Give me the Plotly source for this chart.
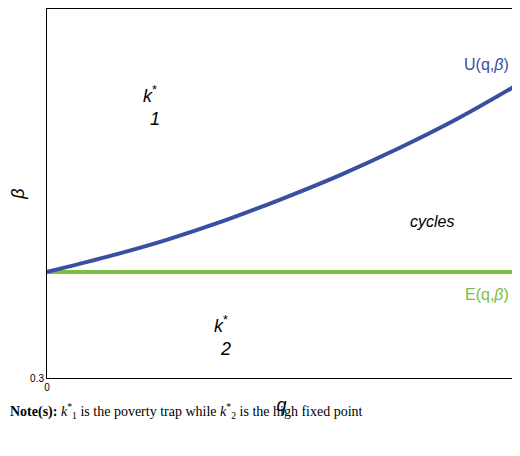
import plotly.graph_objects as go

q = [0, 0.125, 0.25, 0.375, 0.5, 0.625, 0.75, 0.875, 1.0]
u_beta = [0.415, 0.431, 0.449, 0.470, 0.494, 0.520, 0.549, 0.581, 0.617]
e_q = [0, 1]
e_beta = [0.415, 0.415]

fig = go.Figure()
fig.add_trace(go.Scatter(x=e_q, y=e_beta, mode="lines", line=dict(color="#7cbd42", width=4)))
fig.add_trace(go.Scatter(x=q, y=u_beta, mode="lines", line=dict(color="#3a4ea2", width=4, shape="spline")))

ann = [
    dict(x=0.99, y=0.64, text="U(q,<i>β</i>)", font=dict(color="#3a4ea2", size=16), xanchor="right"),
    dict(x=0.99, y=0.39, text="E(q,<i>β</i>)", font=dict(color="#7cbd42", size=16), xanchor="right"),
    dict(x=0.82, y=0.47, text="<i>cycles</i>", font=dict(color="black", size=16), xanchor="center"),
    dict(x=0.22, y=0.595, text="<i>k</i><sup>*</sup><br><i>  1</i>", font=dict(color="black", size=18), xanchor="center"),
    dict(x=0.37, y=0.345, text="<i>k</i><sup>*</sup><br><i>  2</i>", font=dict(color="black", size=18), xanchor="center"),
]
for a in ann:
    fig.add_annotation(x=a["x"], y=a["y"], text=a["text"], showarrow=False, xanchor=a["xanchor"],
                       font=dict(family="Liberation Sans", **a["font"]))

fig.add_annotation(xref="paper", yref="paper", x=-0.083, y=-0.09, xanchor="left", yanchor="middle",
                   text="<b>Note(s):</b> <i>k</i><sup>*</sup><sub>1</sub> is the poverty trap while <i>k</i><sup>*</sup><sub>2</sub> is the high fixed point",
                   showarrow=False, font=dict(family="Liberation Serif", size=14, color="black"))

fig.update_xaxes(range=[0, 1], tickvals=[0, 1], ticktext=["0", "1"], showgrid=False, zeroline=False,
                 showline=True, mirror=True, linecolor="black", linewidth=1, ticks="",
                 title=dict(text="<i>q</i>", font=dict(size=18), standoff=6), tickfont=dict(size=10))
fig.update_yaxes(range=[0.3, 0.7], tickvals=[0.3, 0.7], ticktext=["0.3", "0.7"], showgrid=False, zeroline=False,
                 showline=True, mirror=True, linecolor="black", linewidth=1, ticks="",
                 title=dict(text="<i>β</i>", font=dict(size=18), standoff=4), tickfont=dict(size=10))
fig.update_layout(width=512, height=448, showlegend=False, plot_bgcolor="white", paper_bgcolor="white",
                  margin=dict(l=39, r=4, t=1, b=78), font=dict(family="Liberation Sans", color="black"))
fig.write_html("out.html")
